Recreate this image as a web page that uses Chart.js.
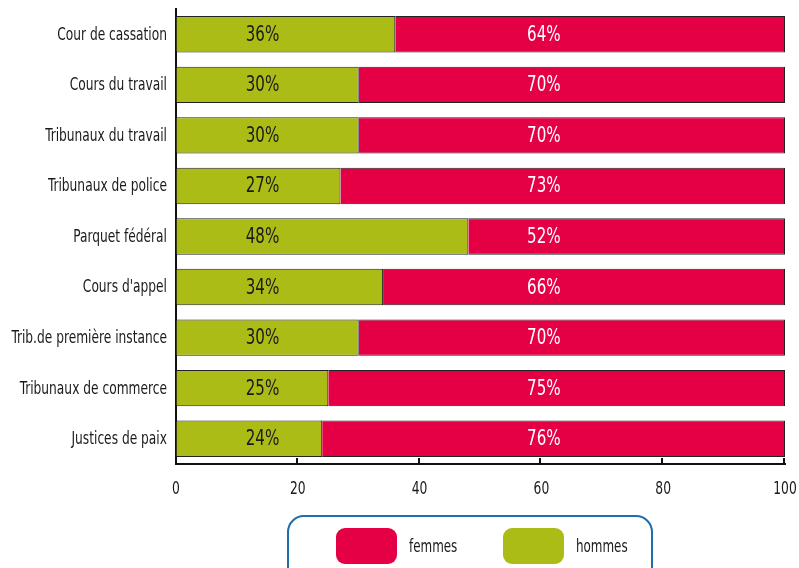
<!DOCTYPE html>
<html>
<head>
<meta charset="utf-8">
<script src="https://cdn.jsdelivr.net/npm/chart.js@4"></script>
<style>
  body { margin: 0; background: #fff; }
  canvas { display: block; }
</style>
</head>
<body>
<canvas id="myChart" width="799" height="568"></canvas>
<script>
const FONT = '"DejaVu Sans Condensed", "Liberation Sans Narrow", sans-serif';

const juridictions = [
    'Cour de cassation',
    'Cours du travail',
    'Tribunaux du travail',
    'Tribunaux de police',
    'Parquet fédéral',
    "Cours d'appel",
    'Trib.de première instance',
    'Tribunaux de commerce',
    'Justices de paix'
];
const hommes = [36, 30, 30, 27, 48, 34, 30, 25, 24];
const femmes = [64, 70, 70, 73, 52, 66, 70, 75, 76];
const xTicks = [0, 20, 40, 60, 80, 100];

// the percentages sit in two fixed columns, given in axis units
const labelColumn = [14.2, 60.4];

const GREEN = '#acbc16';
const RED = '#e50046';
const INK = '#1a1a1a';

// condensed text: squeeze horizontally around the anchor point
function narrowText(ctx, text, x, y, align, size, sx, color) {
    ctx.save();
    ctx.translate(x, y);
    ctx.scale(sx, 1);
    ctx.font = size + 'px ' + FONT;
    ctx.textAlign = align;
    ctx.textBaseline = 'middle';
    ctx.fillStyle = color;
    ctx.fillText(text, 0, 0);
    ctx.restore();
}

// category names and x tick values
const axisText = {
    id: 'axisText',
    afterDraw(chart) {
        const ctx = chart.ctx;
        const x = chart.scales.x;
        const y = chart.scales.y;
        chart.data.labels.forEach((lab, i) => {
            narrowText(ctx, lab, y.right - 9, y.getPixelForValue(i) + 1, 'right', 17, 0.8, INK);
        });
        x.ticks.forEach(t => {
            narrowText(ctx, String(t.value), x.getPixelForValue(t.value), x.top + 25, 'center', 18, 0.76, INK);
        });
    }
};

// percentage of each segment, hommes in dark, femmes in white
const barLabels = {
    id: 'barLabels',
    afterDatasetsDraw(chart) {
        const ctx = chart.ctx;
        const x = chart.scales.x;
        chart.data.datasets.forEach((ds, i) => {
            const meta = chart.getDatasetMeta(i);
            const col = i === 0 ? INK : '#ffffff';
            const cx = x.getPixelForValue(labelColumn[i]);
            meta.data.forEach((bar, j) => {
                narrowText(ctx, ds.data[j] + '%', cx, bar.y + 1, 'center', 21, 0.8, col);
            });
        });
    }
};

// short tick marks pointing up from the bottom axis
const innerTicks = {
    id: 'innerTicks',
    afterDatasetsDraw(chart) {
        const ctx = chart.ctx;
        const x = chart.scales.x;
        const bottom = chart.chartArea.bottom;
        ctx.save();
        ctx.strokeStyle = '#111';
        ctx.lineWidth = 2;
        x.ticks.forEach(t => {
            if (t.value === 0) return;
            const px = Math.round(x.getPixelForValue(t.value)) - 1;
            ctx.beginPath();
            ctx.moveTo(px, bottom - 6);
            ctx.lineTo(px, bottom);
            ctx.stroke();
        });
        ctx.restore();
    }
};

// framed legend at the foot of the chart
const boxLegend = {
    id: 'boxLegend',
    afterDraw(chart) {
        const ctx = chart.ctx;
        ctx.save();
        ctx.strokeStyle = '#1f6dab';
        ctx.lineWidth = 2;
        ctx.beginPath();
        ctx.roundRect(288, 516, 364, 70, 16);
        ctx.stroke();

        const items = [
            { ds: chart.data.datasets[1], x: 336 },
            { ds: chart.data.datasets[0], x: 503 }
        ];
        items.forEach(it => {
            ctx.fillStyle = it.ds.backgroundColor;
            ctx.beginPath();
            ctx.roundRect(it.x, 528, 61, 36, 9);
            ctx.fill();
            narrowText(ctx, it.ds.label, it.x + 73, 548, 'left', 17, 0.78, INK);
        });
        ctx.restore();
    }
};

const data = {
    labels: juridictions,
    datasets: [
        {
            label: 'hommes',
            data: hommes,
            backgroundColor: GREEN,
            borderColor: '#222',
            borderWidth: 1,
            barPercentage: 0.72,
            categoryPercentage: 1
        },
        {
            label: 'femmes',
            data: femmes,
            backgroundColor: RED,
            borderColor: '#222',
            borderWidth: 1,
            barPercentage: 0.72,
            categoryPercentage: 1
        }
    ]
};

const config = {
    type: 'bar',
    data: data,
    options: {
        indexAxis: 'y',
        responsive: false,
        animation: false,
        layout: {
            padding: { top: 9, right: 14, bottom: 64, left: 0 }
        },
        plugins: {
            legend: { display: false },
            tooltip: { enabled: false }
        },
        scales: {
            x: {
                stacked: true,
                min: 0,
                max: 100,
                afterBuildTicks(scale) {
                    scale.ticks = xTicks.map(v => ({ value: v }));
                },
                afterFit(scale) {
                    scale.height = 40;
                },
                grid: { drawOnChartArea: false, drawTicks: false },
                border: { color: '#111', width: 2 },
                ticks: { display: false }
            },
            y: {
                stacked: true,
                afterFit(scale) {
                    scale.width = 176;
                },
                grid: { drawOnChartArea: false, drawTicks: false },
                border: { color: '#111', width: 2 },
                ticks: { display: false }
            }
        }
    },
    plugins: [barLabels, innerTicks, axisText, boxLegend]
};

const myChart = new Chart(document.getElementById('myChart'), config);
</script>
</body>
</html>
